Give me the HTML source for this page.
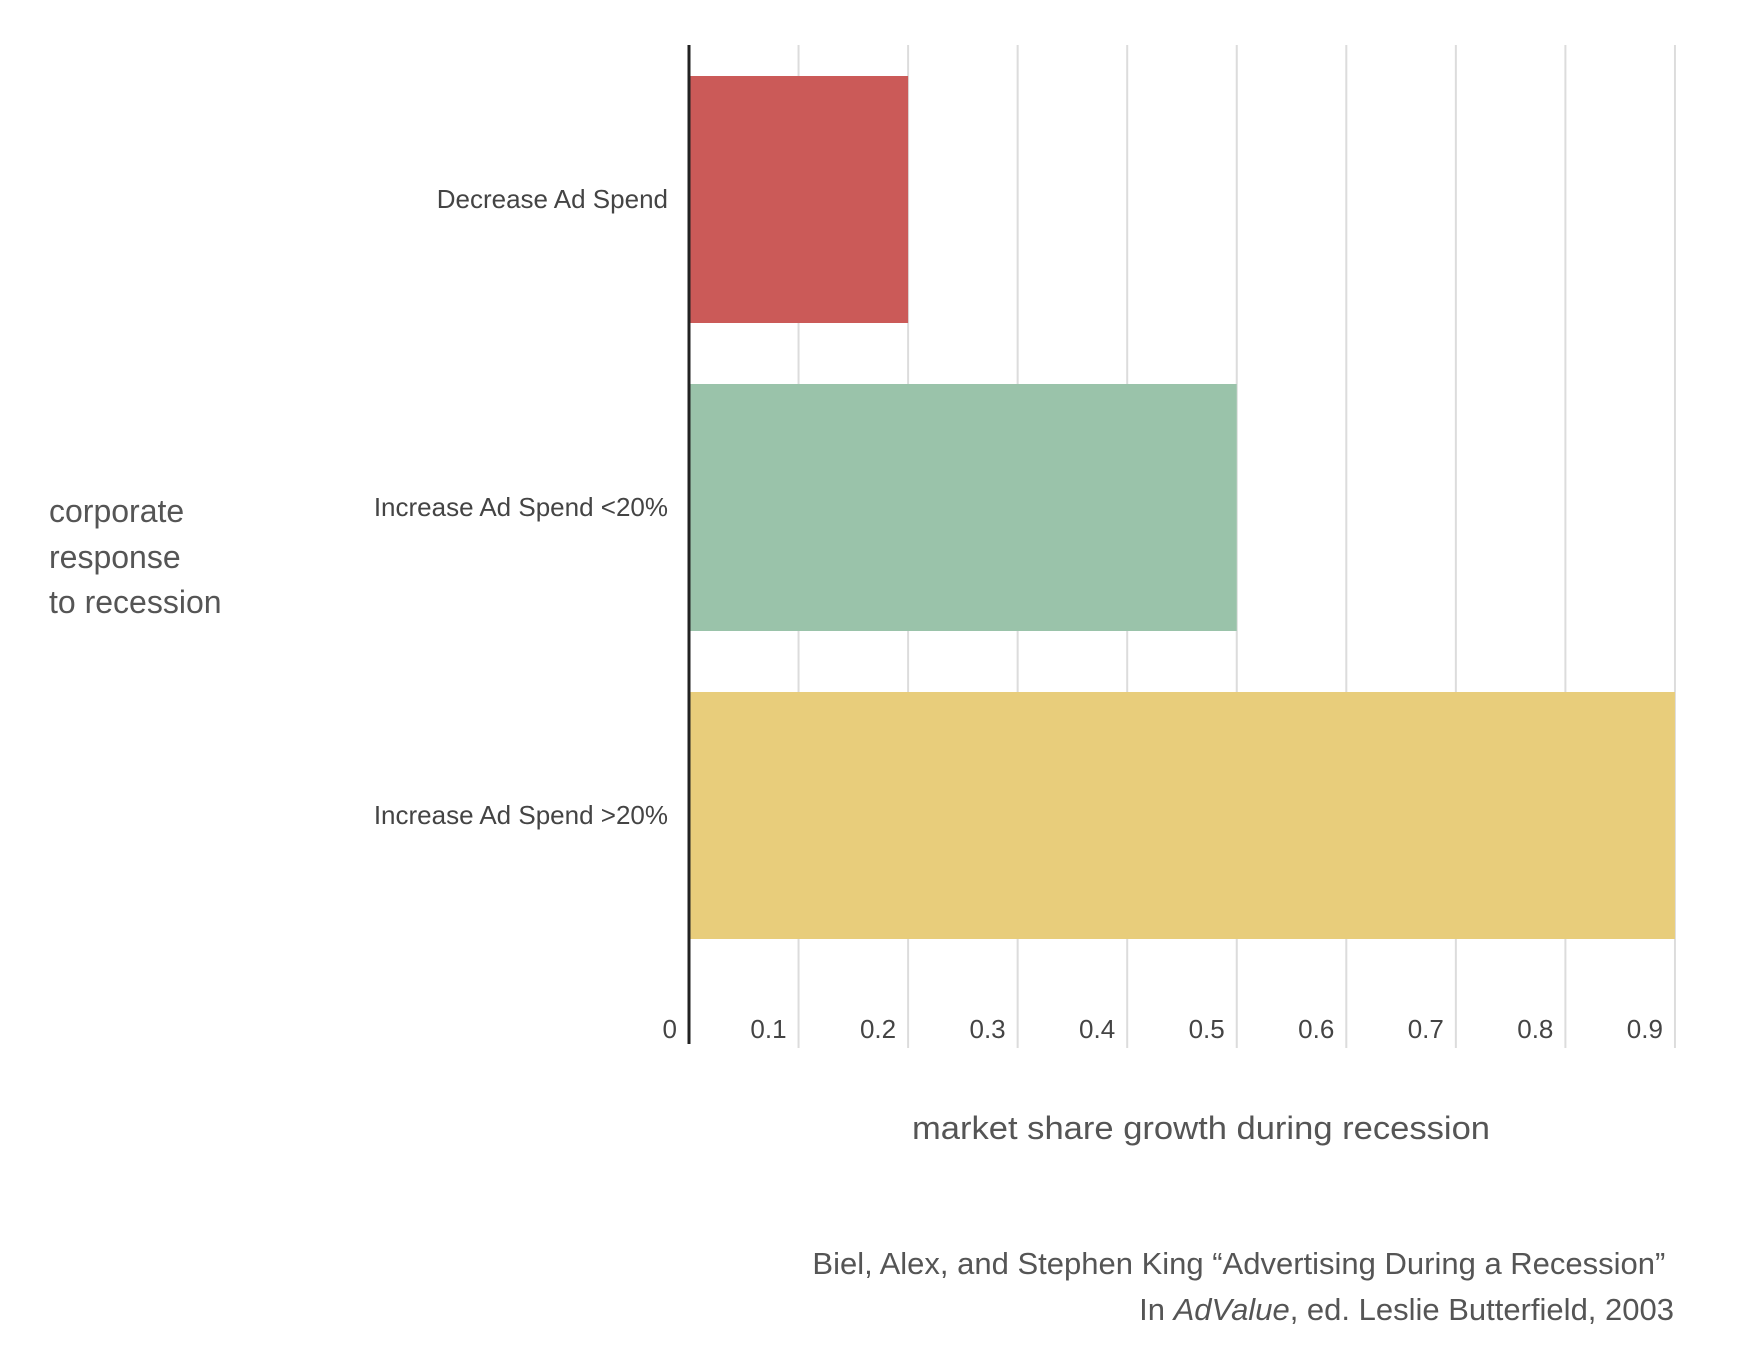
<!DOCTYPE html>
<html><head><meta charset="utf-8"><style>
html,body{margin:0;padding:0;background:#fff;}
svg{display:block;font-family:"Liberation Sans",sans-serif;}
</style></head><body>
<svg id="chart" width="1742" height="1348" viewBox="0 0 1742 1348" xmlns="http://www.w3.org/2000/svg">
<g id="grid"></g>
<g id="bars"></g>
<g id="ticks"></g>
<g id="cats"></g>
<line x1="689" y1="45" x2="689" y2="1044" stroke="#222" stroke-width="3"/>
<text fill="#555" font-size="32" x="49">
<tspan x="49" y="522">corporate</tspan><tspan x="49" y="568">response</tspan><tspan x="49" y="613">to recession</tspan></text>
<text fill="#555" font-size="32" x="1201" y="1139" text-anchor="middle" textLength="578" lengthAdjust="spacingAndGlyphs">market share growth during recession</text>
<text fill="#555" font-size="31" text-anchor="end">
<tspan x="1674" y="1274">Biel, Alex, and Stephen King “Advertising During a Recession”</tspan>
<tspan x="1674" y="1320">In <tspan font-style="italic">AdValue</tspan>, ed. Leslie Butterfield, 2003</tspan></text>
</svg>
<script>
const categories = ["Decrease Ad Spend", "Increase Ad Spend <20%", "Increase Ad Spend >20%"];
const values = [0.2, 0.5, 0.9];
const colors = ["#cb5a58", "#9ac3aa", "#e8cd7b"];
const tickLabels = ["0", "0.1", "0.2", "0.3", "0.4", "0.5", "0.6", "0.7", "0.8", "0.9"];
const tickValues = [0, 0.1, 0.2, 0.3, 0.4, 0.5, 0.6, 0.7, 0.8, 0.9];

const NS = "http://www.w3.org/2000/svg";
const x0 = 689, xPerUnit = 1095.5;
const top0 = 45, bandH = 308, barPad = 31;
function xScale(v){ return x0 + v * xPerUnit; }
function yBand(i){ return top0 + i * bandH; }

const grid = document.getElementById("grid");
const ticks = document.getElementById("ticks");
tickValues.forEach((v, i) => {
  if (i > 0) {
    const l = document.createElementNS(NS, "line");
    
    
    l.setAttribute("x1", xScale(v)); l.setAttribute("x2", xScale(v));
    l.setAttribute("y1", 45); l.setAttribute("y2", 1048);
    l.setAttribute("stroke", "#dcdcdc"); l.setAttribute("stroke-width", "2");
    grid.appendChild(l);
  }
  const t = document.createElementNS(NS, "text");
  
  
  t.setAttribute("x", i === 0 ? xScale(v) - 12 : xScale(v) - 12);
  t.setAttribute("y", 1038);
  t.setAttribute("text-anchor", "end");
  t.setAttribute("font-size", "26");
  t.setAttribute("fill", "#444");
  t.textContent = tickLabels[i];
  ticks.appendChild(t);
});

const bars = document.getElementById("bars");
const cats = document.getElementById("cats");
categories.forEach((c, i) => {
  const r = document.createElementNS(NS, "rect");
  
  
  r.setAttribute("x", xScale(0));
  r.setAttribute("y", yBand(i) + barPad);
  r.setAttribute("width", xScale(values[i]) - xScale(0));
  r.setAttribute("height", bandH - 2 * barPad + 1);
  r.setAttribute("fill", colors[i]);
  bars.appendChild(r);
  const t = document.createElementNS(NS, "text");
  
  
  t.setAttribute("x", 668);
  t.setAttribute("y", yBand(i) + bandH / 2 + 9);
  t.setAttribute("text-anchor", "end");
  t.setAttribute("font-size", "26");
  t.setAttribute("fill", "#444");
  t.textContent = c;
  cats.appendChild(t);
});
</script>
</body></html>
